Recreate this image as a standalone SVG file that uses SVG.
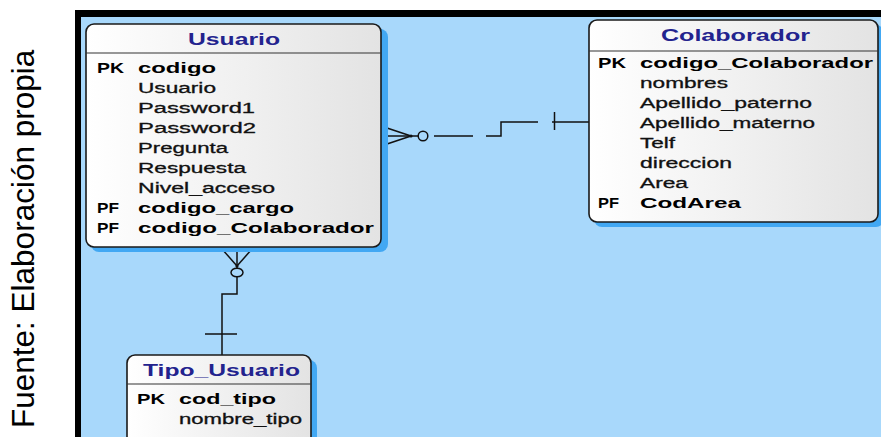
<svg xmlns="http://www.w3.org/2000/svg" width="881" height="437" viewBox="0 0 881 437">
  <defs>
    <linearGradient id="boxGrad" x1="0" y1="0" x2="1" y2="0">
      <stop offset="0" stop-color="#ffffff"/>
      <stop offset="1" stop-color="#e3e3e3"/>
    </linearGradient>
    <style>
      .bg { fill: #a8d8fb; }
      .frame { fill: #000; }
      .shadow { fill: #42a8f3; }
      .box { fill: url(#boxGrad); stroke: #1a1a1a; stroke-width: 1.6; }
      .sep { stroke: #333; stroke-width: 1.2; }
      .title { font-family: "Liberation Sans", Arial, sans-serif; font-weight: bold; font-size: 16px; fill: #23238e; }
      .key { font-family: "Liberation Sans", Arial, sans-serif; font-weight: bold; font-size: 14px; fill: #000; }
      .attr { font-family: "Liberation Sans", Arial, sans-serif; font-size: 14px; fill: #111; stroke: #111; stroke-width: 0.3; }
      .conn { stroke: #111; stroke-width: 1.5; fill: none; }
      .caption { font-family: "Liberation Sans", Arial, sans-serif; font-size: 31.5px; fill: #000; }
    </style>
  </defs>

  <!-- page and canvas frame -->
  <rect x="0" y="0" width="881" height="437" fill="#fff"/>
  <rect class="bg" x="81" y="17" width="800" height="420"/>
  <rect class="frame" x="75" y="10" width="806" height="7"/>
  <rect class="frame" x="75" y="10" width="6" height="427"/>

  <!-- source caption -->
  <text class="caption" x="34" y="428" transform="rotate(-90 34 428)">Fuente: Elaboración propia</text>

  <!-- relationships -->
  <g id="connectors">
    <!-- Usuario (many, optional) to Colaborador (one) -->
    <line class="conn" x1="381" y1="126" x2="411" y2="136"/>
    <line class="conn" x1="381" y1="146" x2="411" y2="136"/>
    <line class="conn" x1="381" y1="136" x2="418" y2="136"/>
    <circle cx="411" cy="136" r="1.6" fill="#111"/>
    <circle class="conn" cx="423" cy="136" r="4.8"/>
    <line class="conn" x1="434" y1="136" x2="473" y2="136"/>
    <path class="conn" d="M486,136 H501 V122 H538"/>
    <path class="conn" d="M552,122 H589"/>
    <line class="conn" x1="554.5" y1="112" x2="554.5" y2="130"/>

    <!-- Usuario (many, optional) to Tipo_Usuario (one) -->
    <line class="conn" x1="222" y1="249" x2="237" y2="266"/>
    <line class="conn" x1="252" y1="249" x2="237" y2="266"/>
    <line class="conn" x1="237" y1="248" x2="237" y2="268"/>
    <circle cx="237" cy="266" r="1.6" fill="#111"/>
    <ellipse class="conn" cx="237" cy="272.5" rx="6" ry="4.3"/>
    <path class="conn" d="M237,277 V294 H222 V355"/>
    <line class="conn" x1="205" y1="334" x2="237" y2="334"/>
  </g>

  <!-- Usuario entity -->
  <g id="usuario">
    <rect class="shadow" x="91" y="29" width="297" height="223" rx="8"/>
    <rect class="box" x="86" y="24" width="295" height="223" rx="8"/>
    <line class="sep" x1="86" y1="53" x2="381" y2="53"/>
    <text class="title" x="188" y="45" textLength="92" lengthAdjust="spacingAndGlyphs">Usuario</text>
    <text class="key" x="97" y="73" textLength="27" lengthAdjust="spacingAndGlyphs">PK</text>
    <text class="key" x="138" y="73" textLength="78" lengthAdjust="spacingAndGlyphs">codigo</text>
    <text class="attr" x="138" y="93" textLength="78" lengthAdjust="spacingAndGlyphs">Usuario</text>
    <text class="attr" x="138" y="113" textLength="117" lengthAdjust="spacingAndGlyphs">Password1</text>
    <text class="attr" x="138" y="133" textLength="118" lengthAdjust="spacingAndGlyphs">Password2</text>
    <text class="attr" x="138" y="153" textLength="90" lengthAdjust="spacingAndGlyphs">Pregunta</text>
    <text class="attr" x="138" y="173" textLength="108" lengthAdjust="spacingAndGlyphs">Respuesta</text>
    <text class="attr" x="138" y="193" textLength="137" lengthAdjust="spacingAndGlyphs">Nivel_acceso</text>
    <text class="key" x="97" y="213" textLength="22" lengthAdjust="spacingAndGlyphs">PF</text>
    <text class="key" x="138" y="213" textLength="156" lengthAdjust="spacingAndGlyphs">codigo_cargo</text>
    <text class="key" x="97" y="233" textLength="22" lengthAdjust="spacingAndGlyphs">PF</text>
    <text class="key" x="138" y="233" textLength="236" lengthAdjust="spacingAndGlyphs">codigo_Colaborador</text>
  </g>

  <!-- Colaborador entity -->
  <g id="colaborador">
    <rect class="shadow" x="594" y="25" width="290" height="202" rx="8"/>
    <rect class="box" x="589" y="20" width="289" height="202" rx="8"/>
    <line class="sep" x1="589" y1="51" x2="878" y2="51"/>
    <text class="title" x="661" y="41" textLength="149" lengthAdjust="spacingAndGlyphs">Colaborador</text>
    <text class="key" x="598" y="68" textLength="28" lengthAdjust="spacingAndGlyphs">PK</text>
    <text class="key" x="640" y="68" textLength="233" lengthAdjust="spacingAndGlyphs">codigo_Colaborador</text>
    <text class="attr" x="640" y="88" textLength="88" lengthAdjust="spacingAndGlyphs">nombres</text>
    <text class="attr" x="640" y="108" textLength="172" lengthAdjust="spacingAndGlyphs">Apellido_paterno</text>
    <text class="attr" x="640" y="128" textLength="175" lengthAdjust="spacingAndGlyphs">Apellido_materno</text>
    <text class="attr" x="640" y="148" textLength="35" lengthAdjust="spacingAndGlyphs">Telf</text>
    <text class="attr" x="640" y="168" textLength="92" lengthAdjust="spacingAndGlyphs">direccion</text>
    <text class="attr" x="640" y="188" textLength="48" lengthAdjust="spacingAndGlyphs">Area</text>
    <text class="key" x="598" y="208" textLength="21" lengthAdjust="spacingAndGlyphs">PF</text>
    <text class="key" x="640" y="208" textLength="101" lengthAdjust="spacingAndGlyphs">CodArea</text>
  </g>

  <!-- Tipo_Usuario entity -->
  <g id="tipo_usuario">
    <rect class="shadow" x="132" y="360" width="185" height="110" rx="8"/>
    <rect class="box" x="127" y="355" width="184" height="110" rx="8"/>
    <line class="sep" x1="127" y1="384" x2="311" y2="384"/>
    <text class="title" x="143" y="376" textLength="157" lengthAdjust="spacingAndGlyphs">Tipo_Usuario</text>
    <text class="key" x="137" y="404" textLength="28" lengthAdjust="spacingAndGlyphs">PK</text>
    <text class="key" x="179" y="404" textLength="97" lengthAdjust="spacingAndGlyphs">cod_tipo</text>
    <text class="attr" x="179" y="424" textLength="123" lengthAdjust="spacingAndGlyphs">nombre_tipo</text>
  </g>
</svg>
